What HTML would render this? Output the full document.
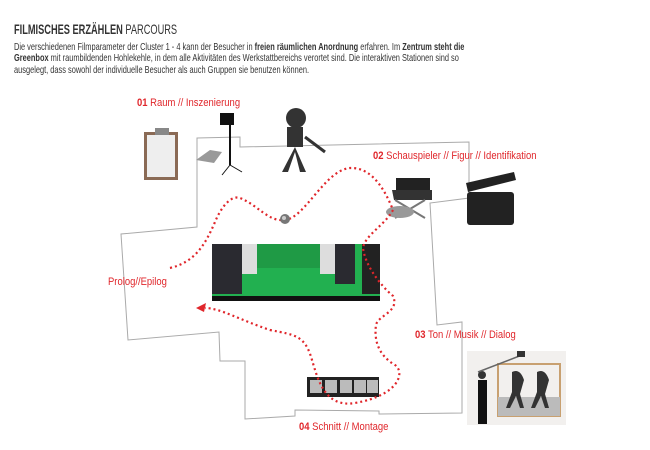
<!DOCTYPE html>
<html><head><meta charset="utf-8"><style>
body{margin:0;width:650px;height:450px;background:#fff;overflow:hidden;position:relative;font-family:"Liberation Sans",sans-serif}
.t{position:absolute;white-space:nowrap;transform-origin:0 0}
.r{color:#e0262b;font-size:11px;transform:scaleX(.86)}
.r b{font-weight:bold}
</style></head><body>
<div class="t" style="left:14px;top:21px;font-size:14px;color:#333;transform:scaleX(.66)"><b>FILMISCHES ERZÄHLEN</b> PARCOURS</div>
<div class="t" style="left:14px;top:42px;font-size:10.5px;line-height:11.3px;color:#333;transform:scaleX(.706)">Die verschiedenen Filmparameter der Cluster 1 - 4 kann der Besucher in <b>freien räumlichen Anordnung</b> erfahren. Im <b>Zentrum steht die</b><br><b>Greenbox</b> mit raumbildenden Hohlekehle, in dem alle Aktivitäten des Werkstattbereichs verortet sind. Die interaktiven Stationen sind so<br>ausgelegt, dass sowohl der individuelle Besucher als auch Gruppen sie benutzen können.</div>
<svg width="650" height="450" style="position:absolute;left:0;top:0">
<polygon points="197,138 240,137 240,147 469,142 469,198 430,203 437,325 462,322 462,413 379,414 379,411 295,410 295,416 245,419 245,361 220,361 219,332 128,340 121,234 197,227" fill="none" stroke="#aaa" stroke-width="1"/>
<!-- greenbox -->
<rect x="212" y="244" width="168" height="57" fill="#22b050"/>
<rect x="257" y="244" width="78" height="24" fill="#1f9a45"/>
<rect x="212" y="244" width="30" height="50" fill="#2a2a30"/>
<rect x="242" y="244" width="15" height="30" fill="#ddd"/>
<rect x="320" y="244" width="15" height="30" fill="#ddd"/>
<rect x="335" y="244" width="20" height="40" fill="#2a2a30"/>
<rect x="362" y="244" width="18" height="50" fill="#222"/>
<rect x="212" y="296" width="168" height="5" fill="#111"/>
<!-- clipboard -->
<rect x="144" y="132" width="34" height="48" fill="#8a6a55"/><rect x="147" y="135" width="28" height="42" fill="#eee"/><rect x="155" y="128" width="14" height="7" fill="#888"/>
<!-- lamp -->
<rect x="220" y="113" width="14" height="12" fill="#111"/><line x1="230" y1="125" x2="230" y2="165" stroke="#111" stroke-width="2"/><line x1="230" y1="165" x2="222" y2="175" stroke="#111"/><line x1="230" y1="165" x2="242" y2="172" stroke="#111"/>
<polygon points="196,160 210,150 222,152 214,163" fill="#999"/>
<!-- camera -->
<circle cx="296" cy="118" r="10" fill="#333"/><rect x="287" y="127" width="16" height="20" fill="#333"/><line x1="305" y1="137" x2="325" y2="152" stroke="#333" stroke-width="3"/>
<polygon points="295,147 282,172 288,172 295,152 300,172 306,172" fill="#333"/>
<!-- chair -->
<rect x="396" y="178" width="34" height="12" fill="#222"/><polygon points="392,190 432,190 432,200 394,200" fill="#333"/><line x1="395" y1="200" x2="425" y2="218" stroke="#777" stroke-width="2"/><line x1="425" y1="200" x2="395" y2="218" stroke="#777" stroke-width="2"/>
<ellipse cx="400" cy="212" rx="14" ry="6" fill="#999"/>
<!-- clapper -->
<polygon points="466,183 514,172 516,180 468,192" fill="#222"/><rect x="467" y="192" width="47" height="33" rx="3" fill="#222"/>
<!-- film -->
<rect x="307" y="377" width="72" height="20" fill="#222"/><rect x="310" y="380" width="12" height="13" fill="#bbb"/><rect x="325" y="380" width="12" height="13" fill="#bbb"/><rect x="340" y="380" width="12" height="13" fill="#bbb"/><rect x="354" y="380" width="12" height="13" fill="#bbb"/><rect x="367" y="380" width="11" height="13" fill="#bbb"/>
<!-- photo -->
<rect x="467" y="351" width="99" height="74" fill="#f2f0ee"/><rect x="498" y="364" width="62" height="52" fill="none" stroke="#c8a070" stroke-width="2"/><rect x="498" y="397" width="62" height="19" fill="#bbb"/>
<path d="M512 372 q8 -4 12 8 l-4 14 l4 14 h-4 l-4 -12 l-6 12 h-4 l6 -16 z" fill="#333"/><path d="M537 372 q8 -4 12 8 l-4 14 l4 14 h-4 l-4 -12 l-6 12 h-4 l6 -16 z" fill="#333"/>
<rect x="478" y="380" width="9" height="44" fill="#111"/><circle cx="482" cy="375" r="4" fill="#333"/><line x1="478" y1="372" x2="522" y2="355" stroke="#666" stroke-width="1.5"/><rect x="517" y="351" width="8" height="6" fill="#333"/>
<!-- dotted path -->
<path d="M170,268 C195,262 205,245 215,222 C222,205 232,195 240,198 C258,205 268,222 285,220 C305,218 325,170 350,168 C372,167 385,190 393,210 C385,225 365,235 363,248 C365,265 380,285 393,296 C400,312 378,315 376,325 C374,340 378,355 395,365 C405,372 400,395 355,403 C325,408 318,380 312,360 C305,335 295,335 270,330 C240,320 220,308 205,308" fill="none" stroke="#e0262b" stroke-width="2.2" stroke-dasharray="2,3"/>
<polygon points="196,308 206,303 204,312" fill="#e0262b"/>
<circle cx="285" cy="219" r="5" fill="#777"/><circle cx="284" cy="218" r="2" fill="#ccc"/>
</svg>
<div class="t r" style="left:137px;top:97px"><b>01</b> Raum // Inszenierung</div>
<div class="t r" style="left:373px;top:150px"><b>02</b> Schauspieler // Figur // Identifikation</div>
<div class="t r" style="left:108px;top:276px">Prolog//Epilog</div>
<div class="t r" style="left:415px;top:329px"><b>03</b> Ton // Musik // Dialog</div>
<div class="t r" style="left:299px;top:421px"><b>04</b> Schnitt // Montage</div>
</body></html>
